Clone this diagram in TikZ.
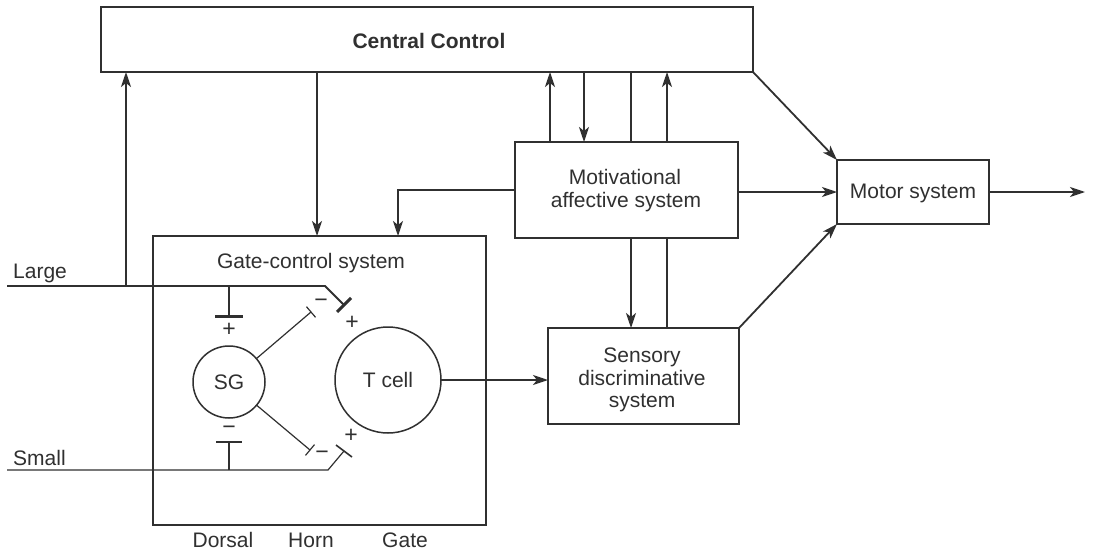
\documentclass[tikz,border=0pt]{standalone}
\usepackage{fontspec}
\setmainfont{Liberation Sans}
\usetikzlibrary{arrows.meta,calc}
\definecolor{ink}{HTML}{303030}
\tikzset{
  x=1pt,y=-1pt,
  every node/.style={text=ink,font=\fontsize{21}{23}\selectfont},
  box/.style={draw=ink,line width=1.8pt,inner sep=0pt,outer sep=0pt,align=center},
  thinbox/.style={draw=ink,line width=1.2pt,inner sep=0pt,outer sep=0pt},
  cell/.style={draw=ink,line width=1.5pt,circle,inner sep=0pt,outer sep=0pt},
  conn/.style={draw=ink,line width=1.8pt},
  arr/.style={conn,-{Stealth[length=15pt,width=10pt,inset=4pt]}},
  fibre/.style={draw=ink,line width=1.2pt},
  lbl/.style={anchor=base,inner sep=0pt},
  sign/.style={anchor=center,inner sep=0pt,font=\fontsize{23}{23}\selectfont}
}
\begin{document}
\begin{tikzpicture}
\useasboundingbox[fill=white] (0,0) rectangle (1103,554);
% boxes
\node[box,minimum width=652pt,minimum height=65pt] (cc) at (427,39.5) {};
\node[lbl,font=\fontsize{21}{23}\selectfont\bfseries] (cctext) at (429,48) {Central Control};
\node[box,minimum width=223pt,minimum height=96pt] (mot) at (626.5,190) {};
\node[lbl] (mot1) at (625,184) {Motivational};
\node[lbl] (mot2) at (626,207) {affective system};
\node[box,minimum width=191pt,minimum height=96pt] (sen) at (643.5,376) {};
\node[lbl] (sen1) at (642,362) {Sensory};
\node[lbl] (sen2) at (642,385) {discriminative};
\node[lbl] (sen3) at (642,407) {system};
\node[box,minimum width=152pt,minimum height=64pt] (motor) at (913,192) {};
\node[lbl] (motortext) at (913,198) {Motor system};
\node[thinbox,minimum width=333pt,minimum height=289pt] (gate) at (319.5,380.5) {};
\node[lbl] (gatetext) at (311,268) {Gate-control system};
\node[cell,minimum size=72pt] (sg) at (229,382) {};
\node (sgtext) at (229,382) {SG};
\node[cell,minimum size=106pt] (tc) at (388,380) {};
\node (tctext) at (388,380) {T cell};
% side labels
\node[lbl,anchor=base west] (large) at (13,278) {Large};
\node[lbl,anchor=base west] (small) at (13,465) {Small};
\node[lbl] (dorsal) at (223,547) {Dorsal};
\node[lbl] (horn) at (311,547) {Horn};
\node[lbl] (gatel) at (405,547) {Gate};
% coordinates
\coordinate (lstart) at (7,286);
\coordinate (lbend) at (325,286);
\coordinate (lend) at (344,305);
\coordinate (lj) at (126,286);
\coordinate (lsg) at (229,286);
\coordinate (lsgend) at (229,316);
\coordinate (sstart) at (7,470);
\coordinate (sbend) at (328,470);
\coordinate (send) at (344,451);
\coordinate (ssg) at (229,470);
\coordinate (ssgend) at (229,442);
\coordinate (sgup) at (311,312);
\coordinate (sgdn) at (310,450);
\coordinate (gin) at (398,236);
\coordinate (out) at (1085,192);
% large fibre
\draw[conn,line join=miter] (lstart) -- (lbend) -- (lend);
\draw[draw=ink,line width=3pt] (337,312) -- (351,298);
\draw[arr] (lj) -- (lj |- cc.south);
\draw[conn] (lsg) -- (lsgend);
\draw[draw=ink,line width=3pt] (215,316) -- (243,316);
\node[sign] (p1) at (229,330) {+};
% small fibre
\draw[fibre,line join=miter] (sstart) -- (sbend) -- (send);
\draw[fibre,line width=1.6pt] (336,445) -- (352,457);
\draw[fibre] (ssg) -- (ssgend);
\draw[fibre,line width=1.6pt] (216,442) -- (242,442);
\node[sign] (m1) at (229,430) {−};
% SG outputs
\draw[fibre] (sg) -- (sgup);
\draw[fibre] (306.5,306.7) -- (315.5,317.3);
\draw[fibre] (sg) -- (sgdn);
\draw[fibre] (305.5,455.4) -- (314.5,444.6);
\node[sign] (m2) at (321,303) {−};
\node[sign] (p2) at (352,323) {+};
\node[sign] (m3) at (322,455) {−};
\node[sign] (p3) at (351,436) {+};
% main connectors
\draw[arr] (tc.east) -- (tc.east -| sen.west);
\draw[arr] (cc.south -| 317,0) -- (gate.north -| 317,0);
\draw[arr] (mot.west) -| (gin);
\draw[arr] (mot.north -| 550,0) -- (cc.south -| 550,0);
\draw[arr] (cc.south -| 584,0) -- (mot.north -| 584,0);
\draw[conn] (cc.south -| 631,0) -- (mot.north -| 631,0);
\draw[arr] (mot.south -| 631,0) -- (sen.north -| 631,0);
\draw[conn] (sen.north -| 667,0) -- (mot.south -| 667,0);
\draw[arr] (mot.north -| 667,0) -- (cc.south -| 667,0);
\draw[arr] (cc.south east) -- (motor.north west);
\draw[arr] (sen.north east) -- (motor.south west);
\draw[arr] (mot.east |- motor.west) -- (motor.west);
\draw[arr] (motor.east) -- (out);
\end{tikzpicture}
\end{document}
